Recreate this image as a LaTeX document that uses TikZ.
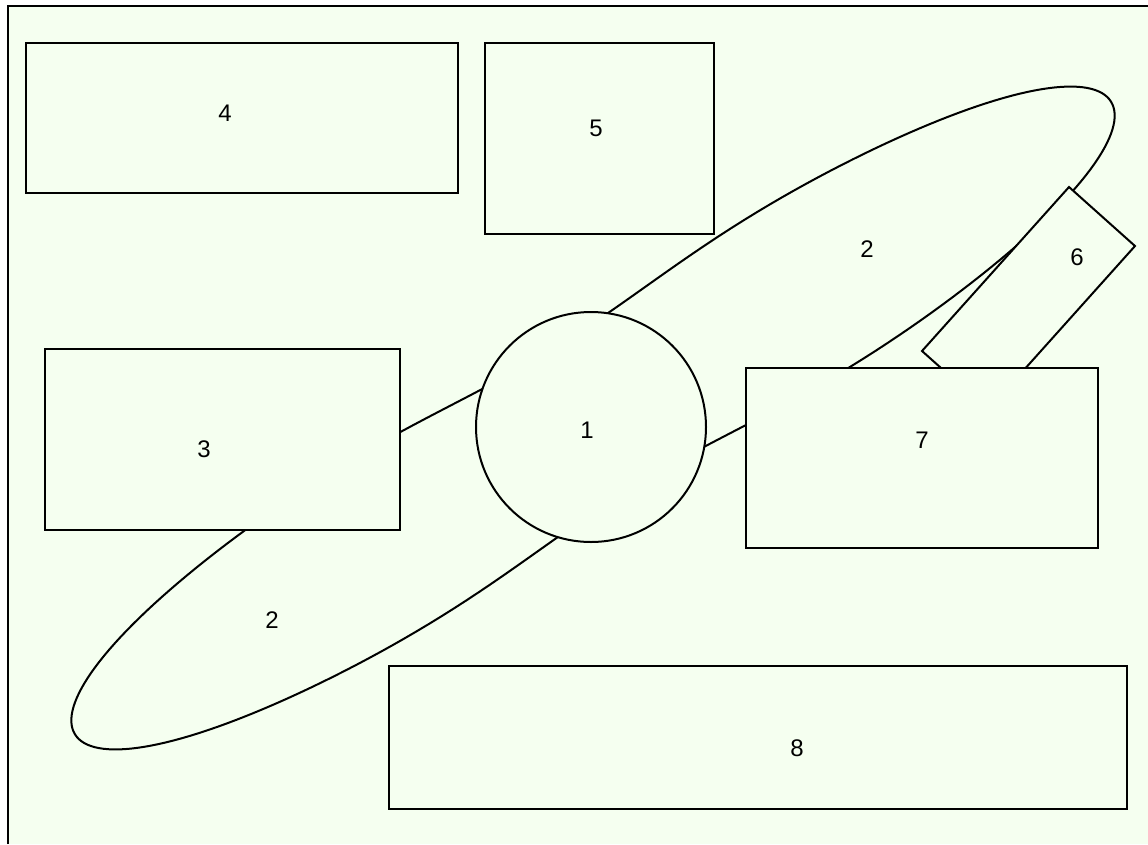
\documentclass[tikz,border=0pt]{standalone}
\usepackage{fontspec}
\setmainfont{Liberation Sans}
\usepackage{tikz}
\definecolor{paper}{RGB}{245,255,240}

\begin{document}
\begin{tikzpicture}[x=1pt, y=-1pt, line width=2pt,
    box/.style={draw=black, fill=paper},
    num/.style={font=\fontsize{24}{28}\selectfont, inner sep=0pt}]
    \useasboundingbox (0,0) rectangle (1148,844);

    % Hintergrund.
    \fill[paper] (8,6) rectangle (1148,844);
    \draw (8,844) -- (8,6) -- (1148,6);

    % Ellipse.
    \begin{scope}[shift={(593,418)}, rotate=31.4]
        \draw[box] plot[domain=0:360, samples=241, variable=\p]
            ({607*cos(\p)},
             {sign(sin(\p))*96*sqrt(max(0,1-abs(cos(\p))^3))
              *(1-0.17*exp(-(607*cos(\p)/180)^2))}) -- cycle;
    \end{scope}

    % Kreis.
    \draw[box] (591,427) circle (115);

    % Rechtecke.
    \draw[box] (1069,187) -- (1135,246) -- (988,410) -- (922,351) -- cycle;
    \draw[box] (746,368) rectangle (1098,548);
    \draw[box] (45,349) rectangle (400,530);
    \draw[box] (26,43) rectangle (458,193);
    \draw[box] (485,43) rectangle (714,234);
    \draw[box] (389,666) rectangle (1127,809);

    % Beschriftung.
    \node[num] (n1) at (587,430) {1};
    \node[num] (n2a) at (867,249) {2};
    \node[num] (n2b) at (272,620) {2};
    \node[num] (n3) at (204,449) {3};
    \node[num] (n4) at (225,113) {4};
    \node[num] (n5) at (596,128) {5};
    \node[num] (n6) at (1077,257) {6};
    \node[num] (n7) at (922,440) {7};
    \node[num] (n8) at (797,748) {8};
\end{tikzpicture}
\end{document}
